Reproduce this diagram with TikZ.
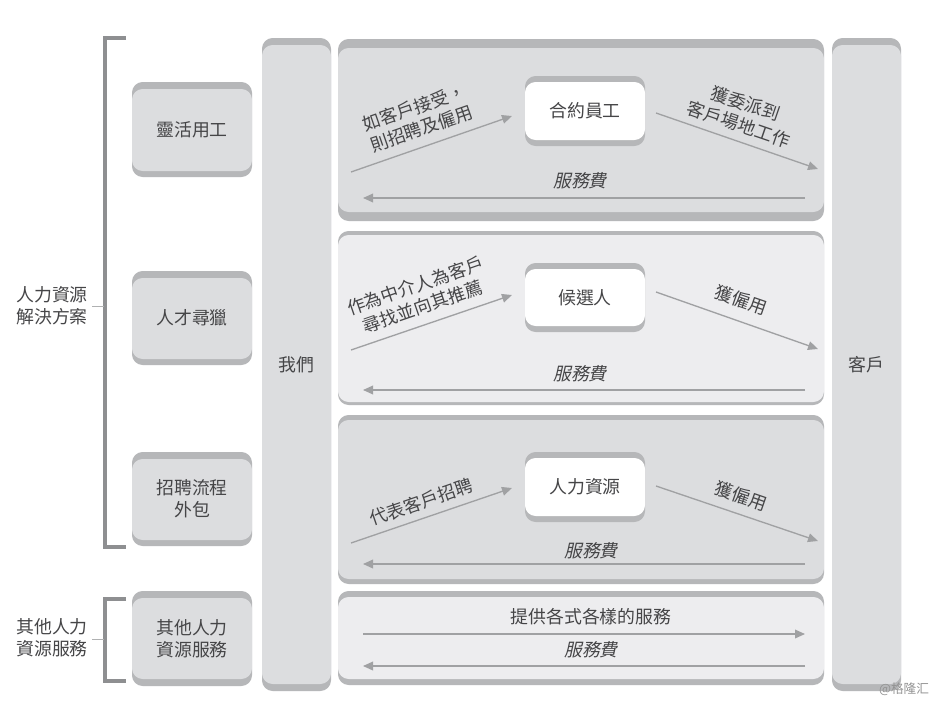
\documentclass[tikz,border=0pt]{standalone}
\usepackage{fontspec}
\setmainfont{Noto Sans CJK TC}[Scale=1.0]
\newfontfamily\slantcjk{Noto Sans CJK TC}[FakeSlant=0.22]
\newfontfamily\wmfont{Noto Sans CJK SC}
\usetikzlibrary{arrows.meta}
\definecolor{band}{HTML}{B6B7B9}
\definecolor{darkfill}{HTML}{DCDDDF}
\definecolor{lightfill}{HTML}{EDEDEF}
\definecolor{ink}{HTML}{454547}
\definecolor{linecol}{HTML}{A0A1A3}
\definecolor{brace}{HTML}{8E8F91}
\tikzset{
  panelbox/.style n args={3}{fill=band, rounded corners=8pt, inner sep=0pt, text=ink, align=center,
    font=\fontsize{13.4}{16.5}\selectfont,
    path picture={\fill[#1, rounded corners=8pt]
      ([yshift={-#2*0.75pt}]path picture bounding box.north west) rectangle
      ([yshift={#3*0.75pt}]path picture bounding box.south east);}},
  flow/.style={draw=linecol, line width=1pt, -{Triangle[length=7.5pt,width=6.5pt,fill=linecol]}},
  bracket/.style={draw=brace, line width=3pt},
  tick/.style={draw=brace!70, line width=0.6pt},
  lab/.style={text=ink, align=center, inner sep=0pt, font=\fontsize{13.4}{16.5}\selectfont},
  feelab/.style={text=ink, inner sep=0pt, font=\slantcjk\fontsize{13.4}{16.5}\selectfont},
  wm/.style={text=gray!85, inner sep=0pt, font=\wmfont\fontsize{9.5}{11}\selectfont}
}
% #1 fill, #2 name, #3-#6 box, #7 top band, #8 bottom band, #9 text
\newcommand{\panelnode}[9]{%
  \node[panelbox={#1}{#7}{#8}, minimum width={(#5-#3)*0.75pt}, minimum height={(#6-#4)*0.75pt}]
    (#2) at ({(#3+#5)/2},{(#4+#6)/2}) {#9};}
\begin{document}
\begin{tikzpicture}[x=0.75pt,y=-0.75pt]
\useasboundingbox[fill=white] (0,0) rectangle (938,703);

% brackets
\coordinate (b1a) at (126,38); \coordinate (b1b) at (105,38);
\coordinate (b1c) at (105,547); \coordinate (b1d) at (126,547);
\draw[bracket] (b1a) -- (b1b) -- (b1c) -- (b1d);
\coordinate (b2a) at (126,599); \coordinate (b2b) at (105,599);
\coordinate (b2c) at (105,681); \coordinate (b2d) at (126,681);
\draw[bracket] (b2a) -- (b2b) -- (b2c) -- (b2d);
\coordinate (t1a) at (92,306); \coordinate (t1b) at (104,306);
\coordinate (t2a) at (92,639); \coordinate (t2b) at (104,639);
\draw[tick] (t1a) -- (t1b);
\draw[tick] (t2a) -- (t2b);
\node[lab] (hrsol) at (52,305.5) {人力資源\\解決方案};
\node[lab] (othersol) at (52,638) {其他人力\\資源服務};

% left column
\panelnode{darkfill}{flex}{132}{82}{252}{177}{7}{6}{靈活用工}
\panelnode{darkfill}{search}{132}{271}{252}{365}{7}{6}{人才尋獵}
\panelnode{darkfill}{rpo}{132}{452}{252}{546}{7}{6}{招聘流程\\外包}
\panelnode{darkfill}{other}{132}{591}{252}{686}{7}{7}{其他人力\\資源服務}

% tall columns
\panelnode{darkfill}{us}{262}{38}{331}{691}{7}{7}{我們}
\panelnode{darkfill}{client}{832}{38}{901}{691}{7}{7}{客戶}

% rows
\panelnode{darkfill}{row1}{338}{39}{824}{221}{9}{9}{}
\panelnode{lightfill}{row2}{338}{231}{824}{405}{4}{3}{}
\panelnode{darkfill}{row3}{338}{415}{824}{584}{5}{5}{}
\panelnode{lightfill}{row4}{338}{591}{824}{685}{6}{6}{}

% white boxes
\panelnode{white}{contract}{525}{76}{645}{146}{6}{6}{合約員工}
\panelnode{white}{cand}{525}{263}{645}{332}{6}{6}{候選人}
\panelnode{white}{hr}{525}{452}{645}{522}{6}{6}{人力資源}

% row 1 connectors
\coordinate (a1) at (351,172); \coordinate (a2) at (512,116);
\coordinate (a3) at (656,113); \coordinate (a4) at (818,169);
\coordinate (a5) at (805,198); \coordinate (a6) at (363,198);
\draw[flow] (a1) -- (a2);
\draw[flow] (a3) -- (a4);
\draw[flow] (a5) -- (a6);
\node[lab, rotate=19] (l1) at (418,118) {如客戶接受，\\則招聘及僱用};
\node[lab, rotate=-19] (l2) at (742,114) {獲委派到\\客戶場地工作};
\node[feelab] (f1) at (580,181) {服務費};

% row 2 connectors
\coordinate (c1) at (351,350); \coordinate (c2) at (512,295);
\coordinate (c3) at (656,292); \coordinate (c4) at (818,349);
\coordinate (c5) at (805,390); \coordinate (c6) at (363,390);
\draw[flow] (c1) -- (c2);
\draw[flow] (c3) -- (c4);
\draw[flow] (c5) -- (c6);
\node[lab, rotate=19] (l3) at (419,296) {作為中介人為客戶\\尋找並向其推薦};
\node[lab, rotate=-19] (l4) at (741,300) {獲僱用};
\node[feelab] (f2) at (580,374) {服務費};

% row 3 connectors
\coordinate (d1) at (351,543); \coordinate (d2) at (512,488);
\coordinate (d3) at (656,486); \coordinate (d4) at (818,541);
\coordinate (d5) at (805,564); \coordinate (d6) at (363,564);
\draw[flow] (d1) -- (d2);
\draw[flow] (d3) -- (d4);
\draw[flow] (d5) -- (d6);
\node[lab, rotate=19] (l5) at (421,502) {代表客戶招聘};
\node[lab, rotate=-19] (l6) at (741,496) {獲僱用};
\node[feelab] (f3) at (591,551) {服務費};

% row 4 connectors
\coordinate (e1) at (363,634); \coordinate (e2) at (805,634);
\coordinate (e3) at (805,666); \coordinate (e4) at (363,666);
\draw[flow] (e1) -- (e2);
\draw[flow] (e3) -- (e4);
\node[lab] (l7) at (591,617) {提供各式各樣的服務};
\node[feelab] (f4) at (591,650) {服務費};

\node[wm] (mark) at (904,689) {@格隆汇};
\end{tikzpicture}
\end{document}
